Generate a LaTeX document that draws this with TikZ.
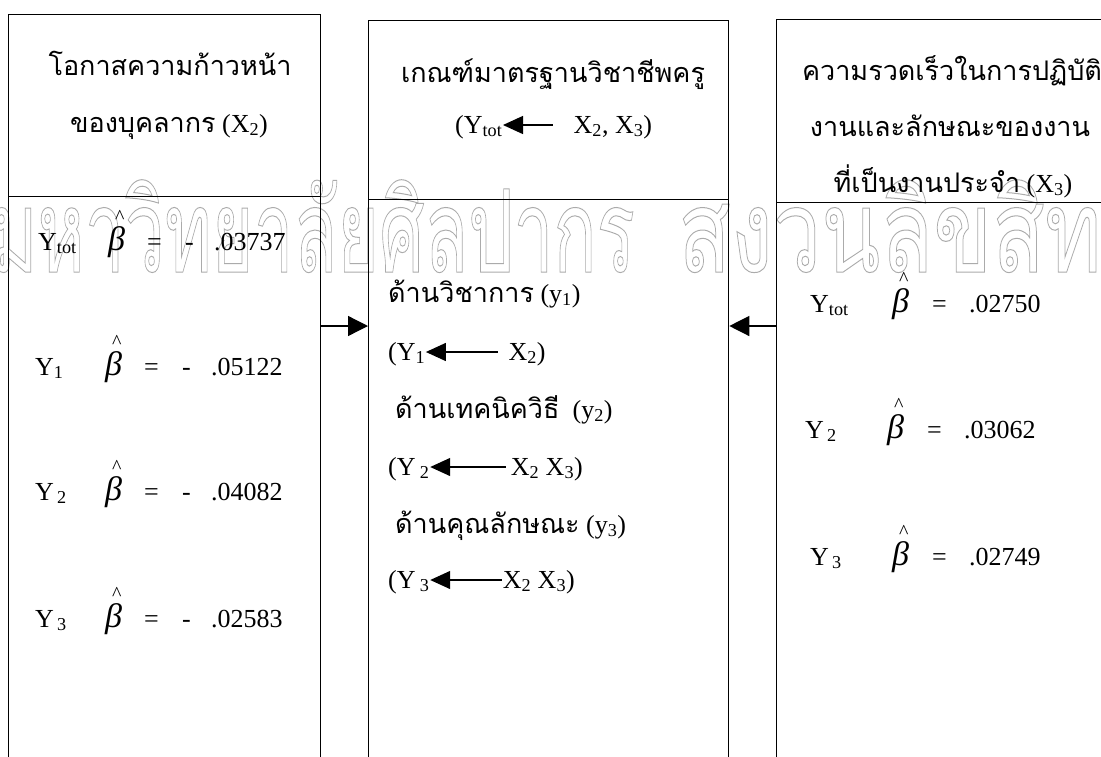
\documentclass[tikz,border=0pt]{standalone}
\usepackage{fontspec}
\setmainfont{Liberation Serif}
\newfontfamily\thaifont[Script=Thai]{Loma}
\usetikzlibrary{arrows.meta}
\usetikzlibrary{calc}

% beta with a hat set well above it
\newcommand{\bhat}{\makebox[0pt][l]{\hspace{7pt}\raisebox{27pt}{\fontsize{20}{20}\selectfont\textasciicircum}}{\fontsize{34}{34}\selectfont\textit{β}}}
% small arrow inside a line of text
\newcommand{\inarrow}[1]{\tikz[baseline=-8pt]\draw[line width=1.3pt,{Triangle[length=20pt,width=18pt]}-] (0pt,0pt) -- (#1,0pt);}
% outlined letters for the watermark
\newcommand{\hollow}[1]{\special{pdf:literal direct 1 Tr 1 w}#1\special{pdf:literal direct 0 Tr}}
\newcommand{\lrow}[2]{\makebox[70pt][l]{Y\textsubscript{#1}}\makebox[39pt][l]{\bhat}\makebox[38pt][l]{=}\makebox[29pt][l]{-}#2}
\newcommand{\rrow}[2]{\makebox[82pt][l]{Y\textsubscript{#1}}\makebox[40pt][l]{\bhat}\makebox[37pt][l]{=}#2}

\begin{document}
\begin{tikzpicture}[x=1pt, y=-1pt,
        box_style/.style={draw=black, line width=1.3pt, inner sep=0pt, anchor=north west},
        text_style/.style={inner sep=0pt, font=\fontsize{26}{30}\selectfont},
        thai_style/.style={inner sep=0pt, font=\thaifont\fontsize{27}{34}\selectfont},
        mark_style/.style={inner sep=0pt, text=black!33, font=\thaifont\fontsize{115}{120}\selectfont},
        link_style/.style={draw=black, line width=1.3pt, -{Triangle[length=20pt,width=20pt]}}]

        \useasboundingbox (0,0) rectangle (1101,756);
        \clip (0,0) rectangle (1101,756);

        % watermark
        \node [mark_style, anchor=base east](wm1) at (635,272) {\scalebox{0.62}[1]{\hollow{มหาวิทยาลัยศิลปากร}}};

        \node [mark_style, anchor=base west](wm2) at (678,272) {\scalebox{0.75}[1]{\hollow{สงวนลิขสิทธิ์}}};

        % three boxes, head and body
        \node [box_style, minimum width=312pt, minimum height=182pt](lhead) at (8,14) {};

        \node [box_style, minimum width=312pt, minimum height=580pt](lbody) at (8,196) {};

        \node [box_style, minimum width=360pt, minimum height=179pt](mhead) at (368,20) {};

        \node [box_style, minimum width=360pt, minimum height=580pt](mbody) at (368,199) {};

        \node [box_style, minimum width=348pt, minimum height=183pt](rhead) at (776,19) {};

        \node [box_style, minimum width=348pt, minimum height=580pt](rbody) at (776,202) {};

        % heads
        \node [thai_style, anchor=base](lt1) at (170,75) {โอกาสความก้าวหน้า};

        \node [text_style, anchor=base](lt2) at (169,132) {{\thaifont\fontsize{27}{34}\selectfont ของบุคลากร} (X\textsubscript{2})};

        \node [thai_style, anchor=base](mt1) at (553,82) {เกณฑ์มาตรฐานวิชาชีพครู};

        \node [text_style, anchor=base west](mt2) at (455,133) {(Y\textsubscript{tot}\inarrow{50pt}\hspace{20pt}X\textsubscript{2}, X\textsubscript{3})};

        \node [thai_style, anchor=base](rt1) at (952,80) {ความรวดเร็วในการปฏิบัติ};

        \node [thai_style, anchor=base](rt2) at (950,136) {งานและลักษณะของงาน};

        \node [text_style, anchor=base](rt3) at (953,192) {{\thaifont\fontsize{27}{34}\selectfont ที่เป็นงานประจำ} (X\textsubscript{3})};

        % left body
        \node [text_style, anchor=base west](l1) at (38,250) {\lrow{tot}{.03737}};

        \node [text_style, anchor=base west](l2) at (35,375) {\lrow{1}{.05122}};

        \node [text_style, anchor=base west](l3) at (35,500) {\lrow{\,2}{.04082}};

        \node [text_style, anchor=base west](l4) at (35,627) {\lrow{\,3}{.02583}};

        % middle body
        \node [text_style, anchor=base west](m1) at (388,302) {{\thaifont\fontsize{27}{34}\selectfont ด้านวิชาการ} (y\textsubscript{1})};

        \node [text_style, anchor=base west](m2) at (388,360) {(Y\textsubscript{1}\inarrow{72pt}\hspace{10pt}X\textsubscript{2})};

        \node [text_style, anchor=base west](m3) at (395,418) {{\thaifont\fontsize{27}{34}\selectfont ด้านเทคนิควิธี}\ \ (y\textsubscript{2})};

        \node [text_style, anchor=base west](m4) at (388,475) {(Y\,\textsubscript{2}\inarrow{76pt}\hspace{4pt}X\textsubscript{2} X\textsubscript{3})};

        \node [text_style, anchor=base west](m5) at (395,533) {{\thaifont\fontsize{27}{34}\selectfont ด้านคุณลักษณะ} (y\textsubscript{3})};

        \node [text_style, anchor=base west](m6) at (388,588) {(Y\,\textsubscript{3}\inarrow{72pt}X\textsubscript{2} X\textsubscript{3})};

        % right body
        \node [text_style, anchor=base west](r1) at (810,312) {\rrow{tot}{.02750}};

        \node [text_style, anchor=base west](r2) at (805,438) {\rrow{\,2}{.03062}};

        \node [text_style, anchor=base west](r3) at (810,565) {\rrow{\,3}{.02749}};

        % links into the middle box
        \coordinate (lvl) at (0,326);

        \draw [link_style] (lbody.east |- lvl) -- (mbody.west |- lvl);

        \draw [link_style] (rbody.west |- lvl) -- (mbody.east |- lvl);

\end{tikzpicture}
\end{document}
